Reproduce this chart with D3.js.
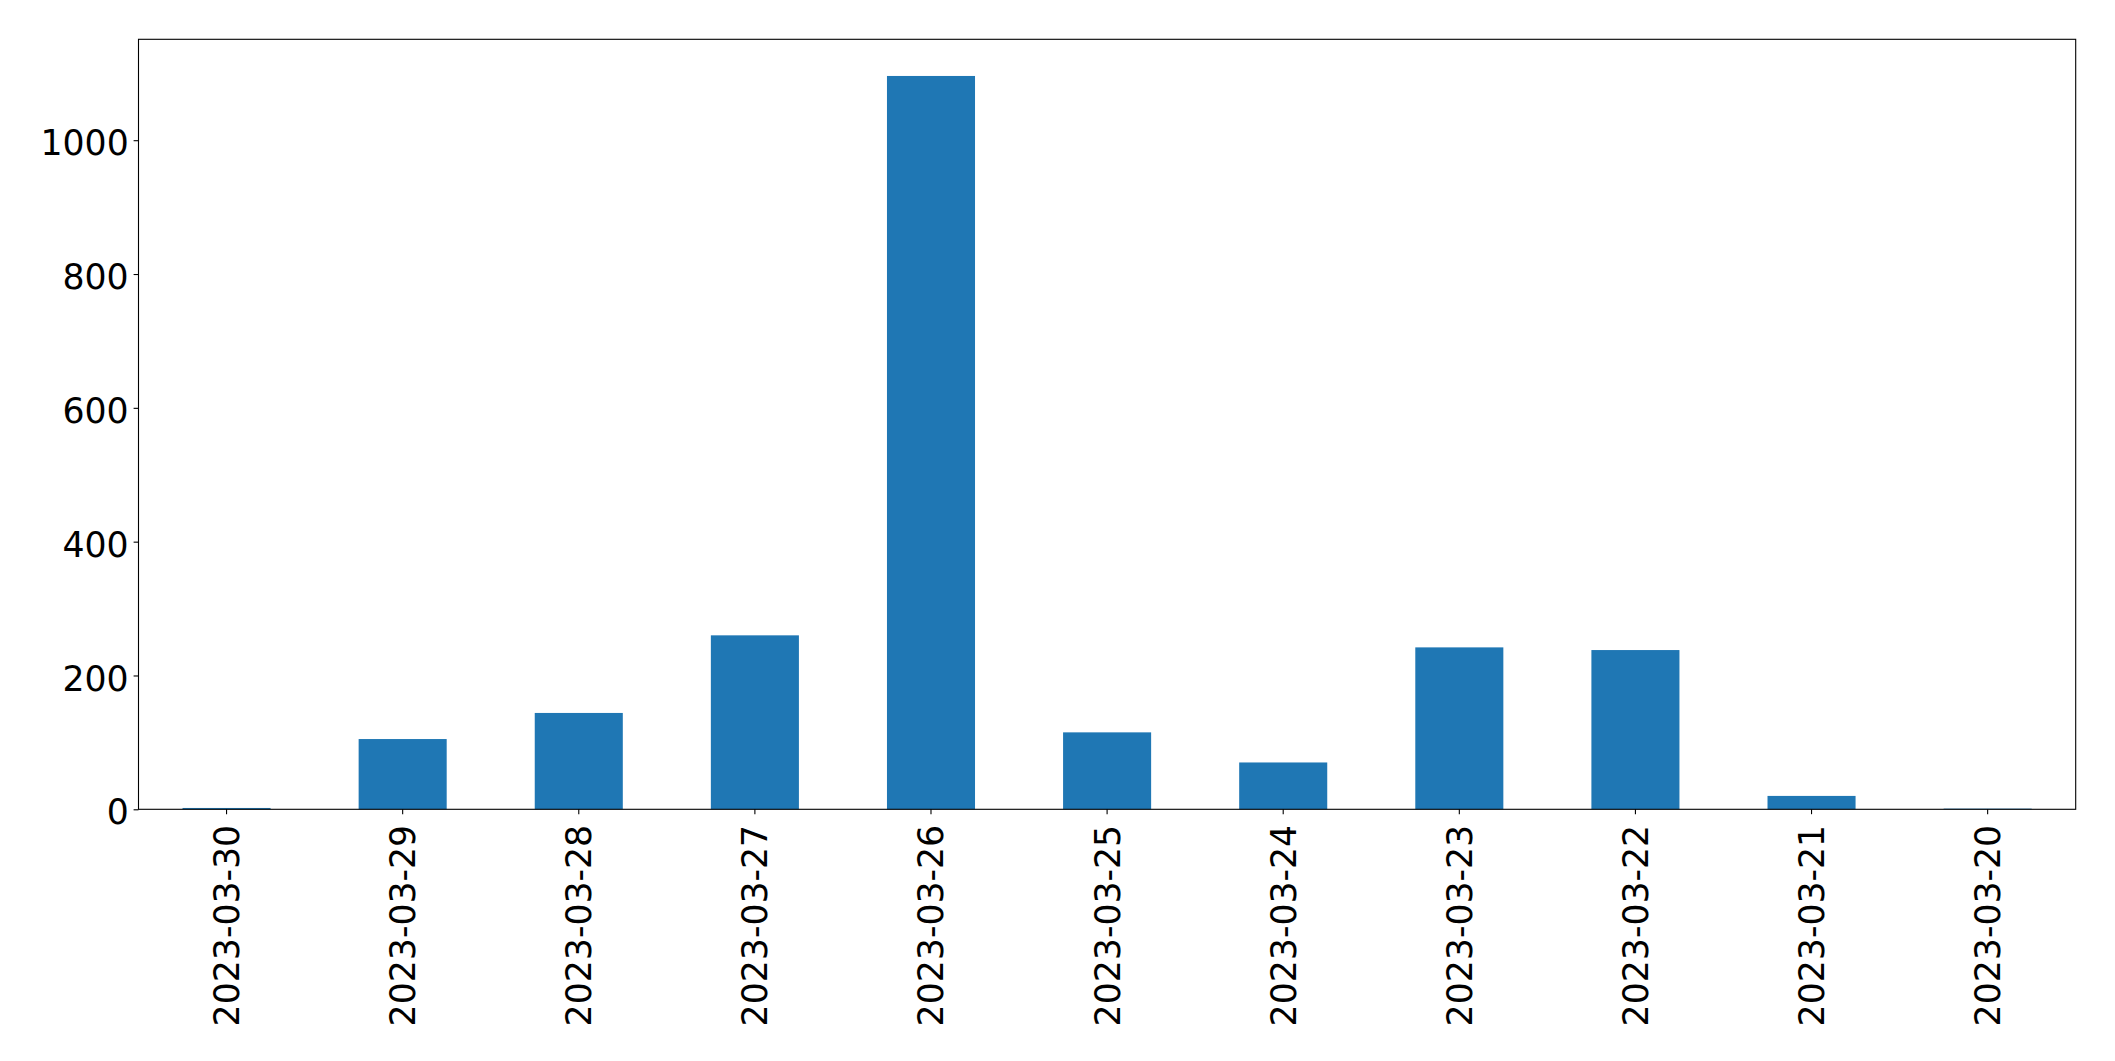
<!DOCTYPE html>
<html>
<head>
<meta charset="utf-8">
<script src="https://cdn.jsdelivr.net/npm/d3@7"></script>
<style>
  html, body { margin: 0; padding: 0; background: #fff; }
  svg { display: block; }
  text { font-family: "DejaVu Sans", sans-serif; }
</style>
</head>
<body>
<svg id="chart" width="2115" height="1061"></svg>
<script>
const categories = ["2023-03-30", "2023-03-29", "2023-03-28", "2023-03-27", "2023-03-26", "2023-03-25", "2023-03-24", "2023-03-23", "2023-03-22", "2023-03-21", "2023-03-20"];
const values = [2, 105, 144, 260, 1096, 115, 70, 242, 238, 20, 1];
const yTicks = [0, 200, 400, 600, 800, 1000];

(function () {
const W = 2115, H = 1061;
const pLeft = 138.5, pRight = 2075.7, pTop = 39.3, pBottom = 809.3;
const fontSize = 34.7;

const svg = d3.select("#chart");

const x = d3.scaleBand()
  .domain(categories)
  .range([pLeft, pRight])
  .paddingInner(0.5)
  .paddingOuter(0.25);

const y = d3.scaleLinear()
  .domain([0, d3.max(values) * 1.05])
  .range([pBottom, pTop]);

svg.append("rect").attr("x", 0).attr("y", 0).attr("width", W).attr("height", H).attr("fill", "#fff");

// bars
svg.append("g").selectAll("rect")
  .data(categories.map((c, i) => ({ c, v: values[i] })))
  .join("rect")
  .attr("x", d => x(d.c))
  .attr("width", x.bandwidth())
  .attr("y", d => y(d.v))
  .attr("height", d => y(0) - y(d.v))
  .attr("fill", "#1f77b4");

// y axis
const yAxis = d3.axisLeft(y).tickValues(yTicks).tickSize(4.9).tickPadding(4.9).tickFormat(d3.format("d"));
const gy = svg.append("g").attr("transform", `translate(${pLeft},0)`).call(yAxis);
gy.select(".domain").remove();
gy.selectAll(".tick line").attr("stroke", "#000").attr("stroke-width", 1.1);
gy.selectAll(".tick text")
  .attr("font-size", fontSize)
  .attr("font-family", "DejaVu Sans")
  .attr("fill", "#000")
  .attr("dy", "0.42em");

// x axis
const xAxis = d3.axisBottom(x).tickSize(4.9).tickPadding(0);
const gx = svg.append("g").attr("transform", `translate(0,${pBottom})`).call(xAxis);
gx.select(".domain").remove();
gx.selectAll(".tick line").attr("stroke", "#000").attr("stroke-width", 1.1);
gx.selectAll(".tick text")
  .attr("font-size", fontSize)
  .attr("font-family", "DejaVu Sans")
  .attr("fill", "#000")
  .attr("text-anchor", "end")
  .attr("transform", "translate(0,15.5) rotate(-90)")
  .attr("x", 0)
  .attr("y", 0)
  .attr("dy", "0.36em");

// frame
svg.append("rect")
  .attr("x", pLeft).attr("y", pTop)
  .attr("width", pRight - pLeft).attr("height", pBottom - pTop)
  .attr("fill", "none").attr("stroke", "#000").attr("stroke-width", 1.1);
})();
</script>
</body>
</html>
